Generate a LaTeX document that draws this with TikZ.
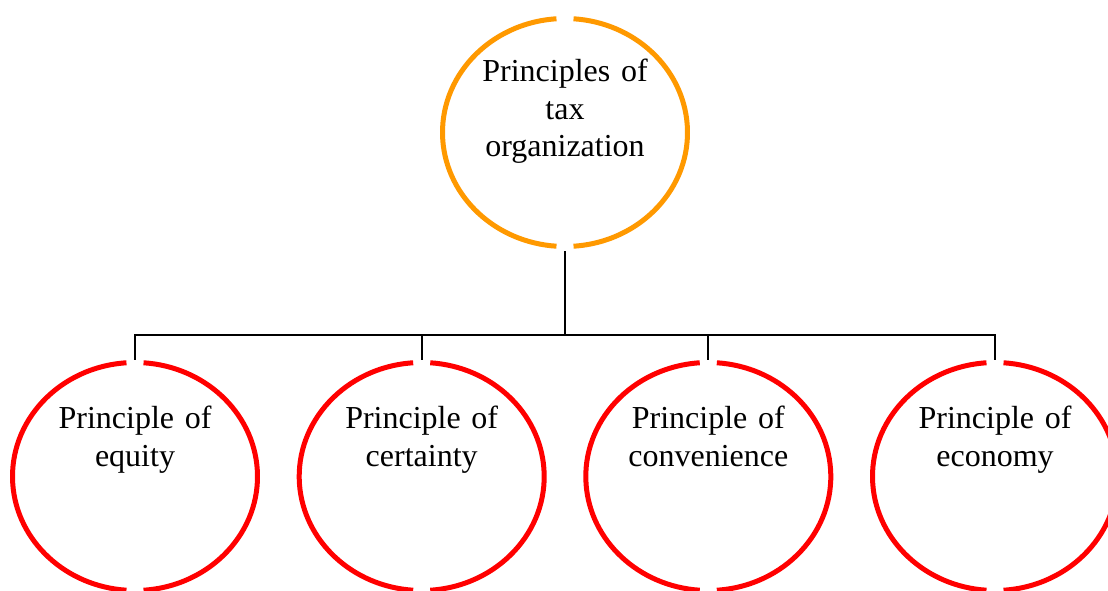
\documentclass[tikz,border=0pt]{standalone}
\usepackage{fontspec}
\setmainfont{Liberation Serif}
\usetikzlibrary{shapes.geometric}
\definecolor{hubcol}{RGB}{255,153,0}
\definecolor{leafcol}{RGB}{255,0,0}
\tikzset{
  disc/.style={ellipse, minimum width=250pt, minimum height=233pt, inner sep=0pt},
  ring/.style={line width=5pt},
  conn/.style={line width=2pt, draw=black},
  caption/.style={font=\fontsize{32}{37.5}\selectfont, text width=240pt, align=center, anchor=base, inner sep=0pt}
}
% ring of the ellipse #1, drawn in colour #2, open at its top and bottom
\newcommand{\gapring}[2]{%
  \draw[ring,draw=#2] ([shift={(94:122.5 and 114)}]#1.center) arc[start angle=94, end angle=266, x radius=122.5, y radius=114];
  \draw[ring,draw=#2] ([shift={(-86:122.5 and 114)}]#1.center) arc[start angle=-86, end angle=86, x radius=122.5, y radius=114];
}
\begin{document}
\begin{tikzpicture}[x=1pt, y=1pt]
  \clip (0,0) rectangle (1108,591);
  \fill[white] (0,0) rectangle (1108,591);

  % circles
  \node[disc] (hub) at (565,458.5) {};
  \node[disc] (c1) at (135,114.5) {};
  \node[disc] (c2) at (421.7,114.5) {};
  \node[disc] (c3) at (708.3,114.5) {};
  \node[disc] (c4) at (995,114.5) {};

  \gapring{hub}{hubcol}
  \gapring{c1}{leafcol}
  \gapring{c2}{leafcol}
  \gapring{c3}{leafcol}
  \gapring{c4}{leafcol}

  % captions
  \node[caption] (t0) at (565,509) {Principles of\\tax\\organization};
  \node[caption] (t1) at (135,162) {Principle of\\equity};
  \node[caption] (t2) at (421.7,162) {Principle of\\certainty};
  \node[caption] (t3) at (708.3,162) {Principle of\\convenience};
  \node[caption] (t4) at (995,162) {Principle of\\economy};

  % tree connectors
  \coordinate (bus) at (565,255.5);
  \draw[conn] ([yshift=-2pt]hub.south) -- (hub.south |- bus);
  \draw[conn] (c1.north) |- (c4.north |- bus) -- (c4.north);
  \draw[conn] (c2.north) -- (c2.north |- bus);
  \draw[conn] (c3.north) -- (c3.north |- bus);
\end{tikzpicture}
\end{document}
